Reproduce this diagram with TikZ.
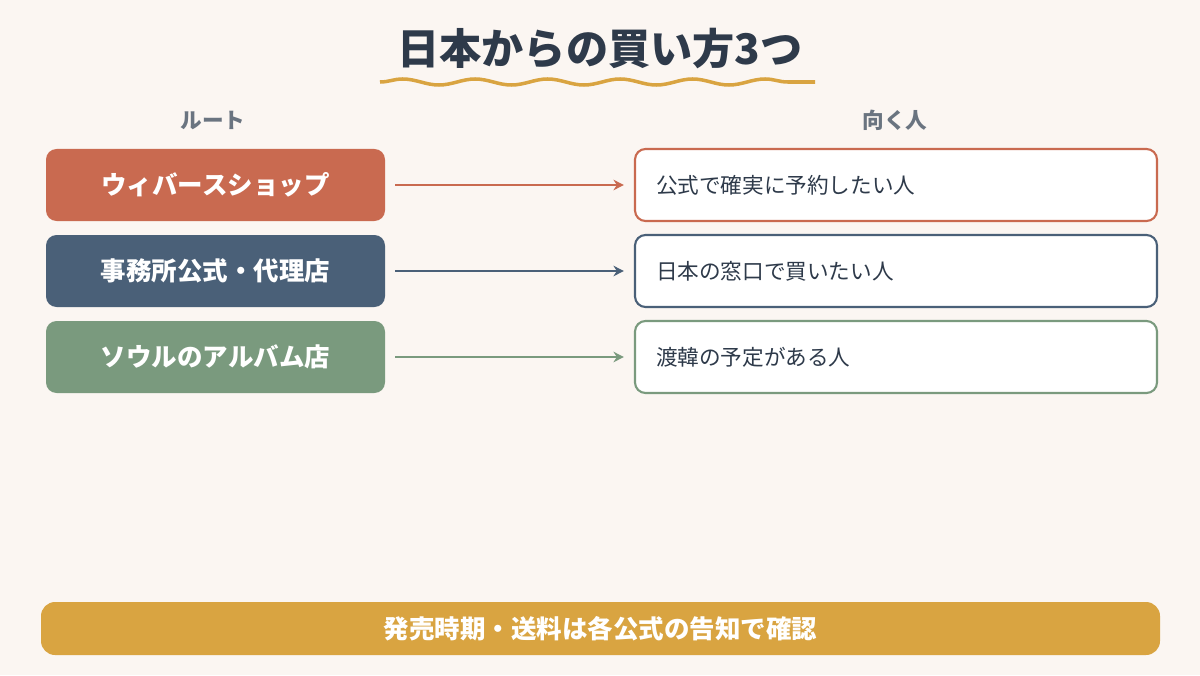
\documentclass[tikz,border=0pt]{standalone}
\usepackage{fontspec}
\setmainfont{Noto Sans CJK JP}
\usetikzlibrary{decorations.pathmorphing}
\definecolor{bgc}{HTML}{FBF6F2}
\definecolor{rust}{HTML}{C96A50}
\definecolor{navy}{HTML}{4A6078}
\definecolor{sage}{HTML}{7A9A7E}
\definecolor{gold}{HTML}{D9A441}
\definecolor{ink}{HTML}{2E3A4A}
\definecolor{greyt}{HTML}{6A7480}
\tikzset{
  route/.style={rounded corners=6pt,minimum width=6.78cm,minimum height=1.44cm,text=white,font=\fontsize{14.5}{17}\selectfont\bfseries},
  who/.style={draw,line width=1.2pt,fill=white,rounded corners=6pt,minimum width=10.44cm,minimum height=1.44cm,text=ink,font=\fontsize{12.3}{15}\selectfont,text width=9.6cm,align=left},
  link/.style={-{Stealth[length=6pt,width=6pt]},thick,shorten <=0.2cm,shorten >=0.2cm},
}
\usetikzlibrary{arrows.meta}
\begin{document}
\begin{tikzpicture}
        \fill[bgc](0,0) rectangle (24,13.5);
        \useasboundingbox (0,0) rectangle (24,13.5);
        % title
        \node[text=ink,font=\fontsize{24}{28}\selectfont\bfseries] (title) at (12,12.52) {日本からの買い方3つ};
        \draw[gold,line width=2pt,decorate,decoration={snake,amplitude=0.06cm,segment length=1.45cm}](7.6,11.86)--(16.3,11.86);
        \node[text=greyt,font=\fontsize{12.3}{15}\selectfont\bfseries] (hl) at (4.26,11.1) {ルート};
        \node[text=greyt,font=\fontsize{12.3}{15}\selectfont\bfseries] (hr) at (17.9,11.1) {向く人};
        % rows
        \node[route,fill=rust] (r1) at (4.31,9.8) {ウィバースショップ};
        \node[who,draw=rust] (w1) at (17.92,9.8) {公式で確実に予約したい人};
        \node[route,fill=navy] (r2) at (4.31,8.08) {事務所公式・代理店};
        \node[who,draw=navy] (w2) at (17.92,8.08) {日本の窓口で買いたい人};
        \node[route,fill=sage] (r3) at (4.31,6.36) {ソウルのアルバム店};
        \node[who,draw=sage] (w3) at (17.92,6.36) {渡韓の予定がある人};
        \draw[link,rust](r1)--(w1);
        \draw[link,navy](r2)--(w2);
        \draw[link,sage](r3)--(w3);
        % bottom bar
        \node[fill=gold,rounded corners=8pt,minimum width=22.38cm,minimum height=1.06cm,text=white,font=\fontsize{14.5}{17}\selectfont\bfseries] (note) at (12.01,0.93) {発売時期・送料は各公式の告知で確認};
\end{tikzpicture}
\end{document}
